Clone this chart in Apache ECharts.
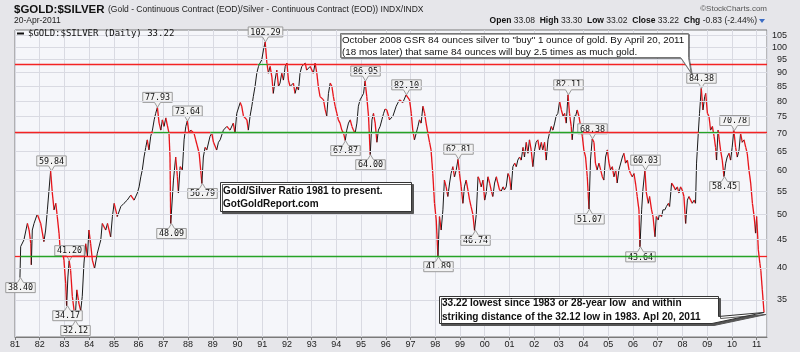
<!DOCTYPE html>
<html>
<head>
<meta charset="UTF-8">
<script src="https://cdn.jsdelivr.net/npm/echarts@6/dist/echarts.min.js"></script>
<style>
  body { margin: 0; background: #e6e6ea; }
  #main { width: 800px; height: 352px; }
</style>
</head>
<body>
<div id="main"></div>
<script>
// gold/silver ratio (decimal years / ratio)
var gsrYears = [
  1981.20,1981.23,1981.36,1981.50,1981.57,1981.64,1981.66,1981.70,1981.77,1981.90,
  1982.04,1982.17,1982.24,1982.31,1982.44,1982.51,1982.58,1982.65,1982.71,1982.78,
  1982.85,1982.91,1982.98,1983.05,1983.09,1983.14,1983.19,1983.25,1983.32,1983.39,
  1983.43,1983.50,1983.59,1983.66,1983.72,1983.79,1983.86,1983.93,1983.99,1984.06,
  1984.13,1984.22,1984.33,1984.47,1984.53,1984.67,1984.74,1984.87,1984.94,1985.01,
  1985.14,1985.28,1985.41,1985.54,1985.68,1985.82,1985.95,1986.02,1986.09,1986.15,
  1986.22,1986.29,1986.35,1986.42,1986.49,1986.56,1986.63,1986.69,1986.76,1986.83,
  1986.90,1986.96,1987.03,1987.10,1987.16,1987.23,1987.27,1987.30,1987.41,1987.50,
  1987.57,1987.61,1987.68,1987.77,1987.84,1987.91,1987.97,1988.04,1988.11,1988.24,
  1988.31,1988.45,1988.56,1988.62,1988.69,1988.76,1988.89,1988.96,1989.03,1989.16,
  1989.23,1989.30,1989.43,1989.57,1989.70,1989.83,1989.90,1989.97,1990.11,1990.17,
  1990.24,1990.38,1990.44,1990.51,1990.58,1990.64,1990.71,1990.78,1990.85,1990.91,
  1990.98,1991.05,1991.12,1991.19,1991.25,1991.32,1991.39,1991.45,1991.52,1991.59,
  1991.66,1991.72,1991.79,1991.86,1991.93,1992.00,1992.06,1992.13,1992.26,1992.33,
  1992.40,1992.47,1992.53,1992.60,1992.74,1992.80,1992.94,1993.07,1993.14,1993.21,
  1993.27,1993.34,1993.48,1993.55,1993.61,1993.68,1993.75,1993.82,1993.88,1993.95,
  1994.02,1994.08,1994.15,1994.22,1994.29,1994.36,1994.42,1994.49,1994.56,1994.63,
  1994.69,1994.76,1994.83,1994.89,1994.96,1995.03,1995.10,1995.16,1995.23,1995.30,
  1995.37,1995.44,1995.50,1995.57,1995.64,1995.70,1995.77,1995.84,1995.91,1995.97,
  1996.04,1996.11,1996.15,1996.29,1996.42,1996.55,1996.69,1996.82,1996.96,1997.03,
  1997.09,1997.16,1997.23,1997.30,1997.36,1997.43,1997.50,1997.57,1997.63,1997.70,
  1997.77,1997.83,1997.90,1997.97,1998.04,1998.11,1998.17,1998.24,1998.31,1998.37,
  1998.44,1998.51,1998.58,1998.64,1998.71,1998.78,1998.85,1998.92,1998.98,1999.05,
  1999.12,1999.18,1999.25,1999.32,1999.39,1999.45,1999.52,1999.59,1999.66,1999.73,
  1999.79,1999.86,1999.93,2000.00,2000.06,2000.13,2000.20,2000.26,2000.33,2000.40,
  2000.47,2000.53,2000.60,2000.67,2000.74,2000.80,2000.87,2000.94,2001.00,2001.07,
  2001.14,2001.21,2001.28,2001.34,2001.41,2001.48,2001.55,2001.61,2001.68,2001.75,
  2001.81,2001.88,2001.95,2002.02,2002.08,2002.15,2002.22,2002.29,2002.35,2002.42,
  2002.49,2002.56,2002.62,2002.69,2002.76,2002.83,2002.89,2002.96,2003.03,2003.10,
  2003.17,2003.23,2003.30,2003.37,2003.43,2003.50,2003.54,2003.63,2003.68,2003.74,
  2003.81,2003.88,2003.95,2004.01,2004.08,2004.15,2004.22,2004.28,2004.35,2004.42,
  2004.48,2004.55,2004.62,2004.69,2004.76,2004.82,2004.89,2004.96,2005.03,2005.09,
  2005.16,2005.23,2005.30,2005.36,2005.43,2005.57,2005.63,2005.70,2005.77,2005.84,
  2005.90,2005.97,2006.04,2006.10,2006.17,2006.24,2006.28,2006.35,2006.40,2006.48,
  2006.54,2006.62,2006.67,2006.75,2006.81,2006.89,2006.94,2007.02,2007.07,2007.16,
  2007.21,2007.29,2007.35,2007.43,2007.48,2007.56,2007.66,2007.72,2007.79,2007.86,
  2007.92,2007.99,2008.06,2008.13,2008.20,2008.26,2008.33,2008.40,2008.47,2008.53,
  2008.57,2008.64,2008.69,2008.76,2008.83,2008.90,2008.94,2009.01,2009.07,2009.14,
  2009.21,2009.28,2009.34,2009.38,2009.44,2009.49,2009.54,2009.61,2009.68,2009.75,
  2009.81,2009.88,2009.95,2010.01,2010.08,2010.15,2010.22,2010.29,2010.35,2010.42,
  2010.49,2010.56,2010.62,2010.69,2010.76,2010.83,2010.90,2010.96,2011.00,2011.03,
  2011.07,2011.13,2011.17,2011.23,2011.30
];
var gsrValues = [
  38.40,43.7,44.9,48.1,46.8,44.2,40.5,46.8,48.1,50.0,
  48.1,44.6,46.8,50.9,59.84,54.6,50.9,52.3,49.5,46.2,
  41.9,43.1,41.3,37.5,34.17,38.5,41.20,39.6,35.5,33.5,
  32.12,36.5,34.4,33.5,35.5,40.8,44.2,41.9,46.8,44.2,
  41.3,39.9,42.5,44.9,48.1,46.8,48.1,45.5,49.5,52.3,
  49.5,51.6,52.3,53.0,54.1,53.0,54.6,56.0,58.4,60.1,
  63.4,66.0,68.1,65.3,69.1,70.9,74.0,76.0,77.93,73.0,
  70.9,74.0,72.0,74.6,72.4,70.0,63.4,48.09,57.6,63.4,
  58.4,54.6,60.9,60.1,68.1,72.0,73.64,70.0,70.9,70.0,
  68.1,64.4,56.79,63.4,66.0,65.3,69.1,70.0,67.4,65.3,
  67.4,68.1,70.9,72.0,70.9,73.0,70.0,76.0,79.5,78.3,
  75.2,74.0,70.9,75.2,78.3,81.5,85.0,89.8,92.4,93.7,
  94.9,98.9,102.29,93.7,89.8,92.4,88.5,82.6,87.3,91.0,
  85.0,86.2,89.8,87.3,92.4,93.7,87.3,85.0,86.2,82.6,
  85.0,83.8,89.8,92.4,93.7,91.0,92.4,89.8,93.7,89.8,
  85.0,81.5,80.4,77.1,75.2,82.6,86.2,85.0,81.5,78.3,
  76.0,74.0,73.0,70.9,70.0,67.87,70.9,73.0,74.0,72.0,
  70.9,70.0,73.0,78.3,80.4,81.5,82.6,86.95,81.5,75.2,
  64.00,74.0,76.0,73.0,67.4,70.9,72.0,74.0,76.0,77.4,
  77.1,75.2,74.0,75.2,78.3,80.4,79.5,82.10,80.4,76.0,
  70.9,68.1,70.0,72.0,74.0,73.0,78.3,76.0,73.0,70.0,
  67.4,65.3,59.2,52.3,48.8,41.89,49.5,46.8,50.9,57.6,
  56.0,53.8,56.9,59.2,60.9,58.4,60.1,62.81,59.2,56.0,
  52.3,56.0,57.6,55.3,53.0,51.6,50.0,46.74,50.0,58.4,
  57.6,56.0,57.6,53.0,54.6,58.4,56.9,55.3,53.8,56.9,
  58.4,56.9,55.3,55.0,56.0,55.3,56.0,59.2,58.4,55.3,
  60.9,61.8,60.9,62.6,63.4,62.6,66.0,63.4,67.4,64.4,
  68.1,65.3,60.9,65.3,67.4,68.1,65.3,67.4,65.3,67.4,
  62.6,68.1,70.0,72.0,70.9,73.0,75.2,76.0,80.0,77.1,
  75.2,76.0,73.0,82.11,76.0,72.0,68.1,75.2,75.2,77.1,
  75.2,72.0,69.1,65.3,63.4,58.4,51.07,62.6,68.38,67.4,
  61.8,60.1,61.8,60.1,58.4,57.6,63.4,65.3,61.8,60.1,
  60.9,58.4,60.1,56.9,60.1,63.4,64.4,61.8,62.6,60.1,
  59.2,58.4,59.2,56.9,53.8,50.9,43.64,50.9,55.3,60.03,
  54.6,52.3,53.8,50.9,49.5,45.5,49.5,48.8,50.0,49.5,
  50.9,50.9,51.6,52.3,51.6,56.9,56.0,55.3,56.0,54.6,
  56.0,55.3,53.8,48.1,53.0,53.8,53.0,52.3,53.0,52.3,
  61.8,70.0,76.0,84.38,77.1,81.5,82.6,76.0,75.2,70.9,
  72.0,69.1,66.0,62.6,70.9,68.1,65.3,62.6,58.45,61.8,
  63.4,64.4,62.6,66.0,70.78,66.0,63.4,65.3,70.0,67.4,
  68.1,66.0,64.4,60.1,56.9,52.3,49.5,46.2,49.5,46.8,
  43.1,40.8,39.6,36.5,33.22
];

// labelled highs (box above) and lows (box below)
var highMarks = [[1982.44,59.84],[1983.19,41.20],[1986.76,77.93],[1987.97,73.64],[1991.12,102.29],
  [1995.16,86.95],[1996.82,82.10],[1998.92,62.81],[2003.37,82.11],[2004.35,68.38],
  [2006.48,60.03],[2008.76,84.38],[2010.08,70.78]];
var lowMarks = [[1981.20,38.40],[1983.09,34.17],[1983.43,32.12],[1987.30,48.09],[1988.56,56.79],
  [1994.36,67.87],[1995.37,64.00],[1998.11,41.89],[1999.59,46.74],[2004.22,51.07],
  [2006.28,43.64],[2009.68,58.45]];

var yTicks = [35,40,45,50,55,60,65,70,75,80,85,90,95,100,105];

// horizontal level lines and the stretches where they are drawn green
var levels = [93.3, 70.2, 41.9];
var greenStretches = [
  [[1990.82,1991.22]],
  [[1986.6,1987.25],[1988.9,1997.7],[2002.65,2003.97],[2008.66,2009.47]],
  [[1981.22,1982.9],[1984.3,2011.07]]
];
var xStart = 1981, xEnd = 2011.42;

var RED = '#f42323', GREEN = '#26a326';

var levelLines = [];
levels.forEach(function (lv, k) {
  var cur = xStart;
  greenStretches[k].forEach(function (g) {
    levelLines.push([{ coord: [cur, lv], lineStyle: { color: RED } }, { coord: [g[0], lv] }]);
    levelLines.push([{ coord: [g[0], lv], lineStyle: { color: GREEN } }, { coord: [g[1], lv] }]);
    cur = g[1];
  });
  levelLines.push([{ coord: [cur, lv], lineStyle: { color: RED } }, { coord: [xEnd, lv] }]);
});

var marks = highMarks.map(function (m) { return [m[0], m[1], 1]; })
  .concat(lowMarks.map(function (m) { return [m[0], m[1], -1]; }));

var chart = echarts.init(document.getElementById('main'));

chart.setOption({
  animation: false,
  backgroundColor: '#e6e6ea',
  grid: { left: 15, right: 33, top: 30, bottom: 15, show: true,
    backgroundColor: '#f5f6fa', borderColor: '#7a7a7a', borderWidth: 1 },
  xAxis: {
    type: 'value', min: xStart, max: xEnd, interval: 1,
    axisLine: { lineStyle: { color: '#7a7a7a' } },
    axisTick: { length: 3, lineStyle: { color: '#7a7a7a' } },
    axisLabel: { fontSize: 9, color: '#222', margin: 3, fontFamily: 'Liberation Sans', showMaxLabel: false,
      formatter: function (v) { return v % 1 === 0 ? String(v % 100).padStart(2, '0') : ''; } },
    splitLine: { show: true, lineStyle: { color: '#d9dae2' } }
  },
  yAxis: {
    type: 'log', logBase: 10, min: 30, max: 107.5,
    axisLine: { show: false }, axisTick: { show: false },
    axisLabel: { show: false }, splitLine: { show: false }
  },
  series: [
    { // grid lines + right labels
      type: 'line', data: [[1981, 50]], showSymbol: false, silent: true, z: 1,
      lineStyle: { opacity: 0 },
      markLine: {
        silent: true, symbol: ['none', 'none'],
        lineStyle: { color: '#d9dae2', type: 'solid', width: 1 },
        label: { show: true, position: 'end', distance: 4,
          formatter: function (p) { return '{a|' + p.value + '}'; },
          rich: { a: { width: 16, align: 'right', fontSize: 9, color: '#222', fontFamily: 'Liberation Sans' } } },
        data: yTicks.map(function (v) { return { yAxis: v }; })
      }
    },
    { // red / green level lines
      type: 'line', data: [[1981, 50]], showSymbol: false, silent: true, z: 2,
      lineStyle: { opacity: 0 },
      markLine: {
        silent: true, symbol: ['none', 'none'], label: { show: false },
        lineStyle: { type: 'solid', width: 1.3 },
        data: levelLines
      }
    },
    { // daily ratio, black on rises, red on falls
      type: 'custom', z: 3, silent: true,
      data: gsrYears.map(function (y, i) { return [y, gsrValues[i]]; }),
      encode: { x: 0, y: 1 },
      renderItem: function (params, api) {
        var i = params.dataIndex;
        if (i === 0) return { type: 'group', children: [] };
        var p0 = api.coord([gsrYears[i - 1], gsrValues[i - 1]]);
        var p1 = api.coord([api.value(0), api.value(1)]);
        var up = gsrValues[i] >= gsrValues[i - 1];
        return { type: 'line', shape: { x1: p0[0], y1: p0[1], x2: p1[0], y2: p1[1] },
          style: { stroke: up ? '#1a1a1a' : '#e8141a', lineWidth: up ? 1 : 1.3 } };
      }
    },
    { // value callouts
      type: 'custom', z: 4, silent: true, clip: false,
      data: marks, encode: { x: 0, y: 1 },
      renderItem: function (params, api) {
        var p = api.coord([api.value(0), api.value(1)]);
        var dir = api.value(2) === 1 ? -1 : 1;
        var txt = api.value(1).toFixed(2);
        var w = txt.length * 5.1 + 4, h = 10;
        var px = Math.round(p[0]) + 0.5, py = p[1];
        var by = py + dir * 5, fy = by + dir * h;
        var l = px - w / 2, r = px + w / 2;
        return { type: 'group', children: [
          { type: 'polygon', shape: { points: [[l, fy], [r, fy], [r, by], [px + 3, by], [px, py], [px - 3, by], [l, by]] },
            style: { fill: '#f3f3f3', stroke: '#9a9a9a', lineWidth: 1 } },
          { type: 'text', style: { text: txt, x: px, y: (by + fy) / 2 + 0.5, align: 'center', verticalAlign: 'middle',
            textAlign: 'center', textVerticalAlign: 'middle', font: '8.4px "DejaVu Sans Mono"', fill: '#111' } }
        ] };
      }
    }
  ]
});

// text annotations (fixed boxes, pointers aimed at data points)
function txt(x, y, s, font, fill, align) {
  return { type: 'text', silent: true, z: 10,
    style: { text: s, x: x, y: y, font: font, fill: fill || '#111',
      align: align || 'left', verticalAlign: 'middle', textAlign: align || 'left', textVerticalAlign: 'middle' } };
}
var peak = chart.convertToPixel({ xAxisIndex: 0, yAxisIndex: 0 }, [2008.76, 84.38]);
var last = chart.convertToPixel({ xAxisIndex: 0, yAxisIndex: 0 }, [gsrYears[gsrYears.length - 1], gsrValues[gsrValues.length - 1]]);
var tip1 = [peak[0] - 10, peak[1] - 15];

var SANS = '"Liberation Sans"';
chart.setOption({
  graphic: [
    txt(14, 10, '$GOLD:$SILVER', 'bold 11.5px ' + SANS, '#111'),
    txt(108, 10, '(Gold - Continuous Contract (EOD)/Silver - Continuous Contract (EOD)) INDX/INDX', '8.5px ' + SANS, '#222'),
    txt(14, 21, '20-Apr-2011', '8.5px ' + SANS, '#222'),
    txt(767, 9, '\u00A9StockCharts.com', '8px ' + SANS, '#555', 'right'),
    { type: 'text', silent: true, z: 10,
      style: { text: '{b|Open} 33.08  {b|High} 33.30  {b|Low} 33.02  {b|Close} 33.22  {b|Chg} -0.83 (-2.44%)',
        x: 757, y: 20.5, align: 'right', verticalAlign: 'middle', textAlign: 'right', textVerticalAlign: 'middle',
        font: '8.5px ' + SANS, fill: '#222',
        rich: { b: { fontWeight: 'bold', fontSize: 8.5, fontFamily: 'Liberation Sans', fill: '#111' } } } },
    { type: 'polygon', silent: true, z: 10, shape: { points: [[759, 19], [765, 19], [762, 23]] }, style: { fill: '#3b6cc4' } },
    // legend
    { type: 'line', silent: true, z: 10, shape: { x1: 17, y1: 33.5, x2: 24, y2: 33.5 }, style: { stroke: '#111', lineWidth: 2 } },
    txt(28, 34, '$GOLD:$SILVER (Daily) 33.22', '9px "DejaVu Sans Mono"', '#111'),
    // top note with pointer to the 2008 peak label
    { type: 'polygon', silent: true, z: 9,
      shape: { points: [[340.5, 33.5], [688.5, 33.5], [688.5, 57.5], tip1, [680.5, 57.5], [340.5, 57.5]] },
      style: { fill: '#fff', stroke: '#777', lineWidth: 1, shadowColor: 'rgba(0,0,0,0.35)', shadowOffsetX: 1, shadowOffsetY: 1, shadowBlur: 0 } },
    txt(342, 40, 'October 2008 GSR 84 ounces silver to "buy" 1 ounce of gold. By April 20, 2011', '9.8px ' + SANS),
    txt(342, 52.5, '(18 mos later) that same 84 ounces will buy 2.5 times as much gold.', '9.8px ' + SANS),
    // source box
    { type: 'rect', silent: true, z: 9, shape: { x: 220.5, y: 182.5, width: 191, height: 29 },
      style: { fill: '#fff', stroke: '#333', lineWidth: 1, shadowColor: '#555', shadowOffsetX: 2, shadowOffsetY: 2, shadowBlur: 0 } },
    txt(223, 191, 'Gold/Silver Ratio 1981 to present.', 'bold 10px ' + SANS),
    txt(223, 204.5, 'GotGoldReport.com', 'bold 10px ' + SANS),
    // bottom note with pointer to the last close
    { type: 'polygon', silent: true, z: 9,
      shape: { points: [[439.5, 296.5], [718.5, 296.5], [718.5, 316.5], last, [712, 323.5], [439.5, 323.5]] },
      style: { fill: '#fff', stroke: '#333', lineWidth: 1, shadowColor: '#555', shadowOffsetX: 2, shadowOffsetY: 2, shadowBlur: 0 } },
    txt(442, 303.5, '33.22 lowest since 1983 or 28-year low  and within', 'bold 10.1px ' + SANS),
    txt(442, 317.5, 'striking distance of the 32.12 low in 1983. Apl 20, 2011', 'bold 10.1px ' + SANS)
  ]
});
</script>
</body>
</html>
